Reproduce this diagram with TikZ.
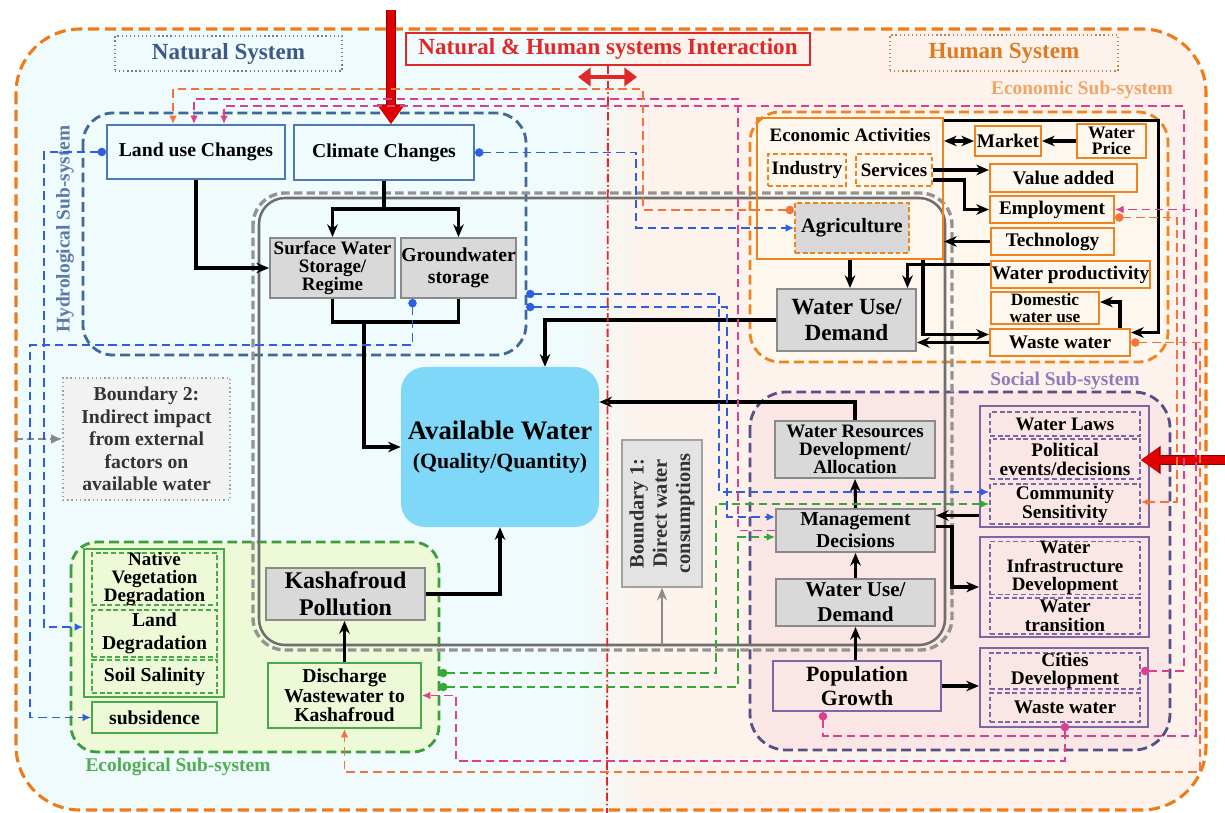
\documentclass[tikz,border=0pt]{standalone}
\usepackage{fontspec}
\setmainfont{Liberation Serif}
\usetikzlibrary{arrows.meta}

\definecolor{natbg}{HTML}{EFFBFD}
\definecolor{humbg}{HTML}{FDF3EC}
\definecolor{outer}{HTML}{F07A18}
\definecolor{hydline}{HTML}{3F6A96}
\definecolor{hydbox}{HTML}{4C7AB0}
\definecolor{hydtxt}{HTML}{5A7AA8}
\definecolor{nattxt}{HTML}{3D5A86}
\definecolor{natdot}{HTML}{6A7F9A}
\definecolor{humtxt}{HTML}{E07A20}
\definecolor{humdot}{HTML}{B8864E}
\definecolor{intred}{HTML}{E12828}
\definecolor{ecoline}{HTML}{3E9E3E}
\definecolor{ecofill}{HTML}{EEF9D8}
\definecolor{ecobox}{HTML}{49AA49}
\definecolor{ecotxt}{HTML}{4FAE4F}
\definecolor{econ}{HTML}{EE8420}
\definecolor{econfill}{HTML}{FEF7EE}
\definecolor{econtxt}{HTML}{F2A565}
\definecolor{socline}{HTML}{5A4E88}
\definecolor{socfill}{HTML}{FAE7E5}
\definecolor{socbox}{HTML}{7D66A6}
\definecolor{soctxt}{HTML}{8C7BBD}
\definecolor{boxgray}{HTML}{8A8A8A}
\definecolor{fillgray}{HTML}{D9D9D9}
\definecolor{awblue}{HTML}{7FD8F7}
\definecolor{coresolid}{HTML}{6E6E6E}
\definecolor{coredash}{HTML}{939393}
\definecolor{lnkblue}{HTML}{2E5FE3}
\definecolor{lnkgreen}{HTML}{35A835}
\definecolor{lnkpink}{HTML}{DD3F8E}
\definecolor{lnkorange}{HTML}{F2743A}
\definecolor{redarr}{HTML}{E00000}
\definecolor{reddark}{HTML}{8B0000}

\newlength\pu
\setlength\pu{0.025cm}
\newcommand\fsz[2]{\fontsize{#1}{#2}\selectfont\bfseries}

\begin{document}
\begin{tikzpicture}[x=0.025cm, y=-0.025cm,
  sz/.style 2 args = {minimum width=#1\pu, minimum height=#2\pu},
  txt/.style      = {font=\fsz{14}{14}, align=center, inner sep=0pt},
  ttl/.style      = {txt, font=\fsz{16.4}{18}, line width=0.9pt},
  sublbl/.style   = {txt, font=\fsz{13.8}{15}},
  region/.style   = {line width=2pt, dash pattern=on 7pt off 3.5pt},
  hbox/.style     = {txt, draw=hydbox, line width=1.4pt},
  gbox/.style     = {txt, draw=boxgray, fill=fillgray, line width=1.4pt},
  cbox/.style     = {txt, draw=ecobox, line width=1.4pt},   % ecological
  cdash/.style    = {cbox, line width=1.2pt, dash pattern=on 3.5pt off 2pt},
  ebox/.style     = {txt, draw=econ, line width=1.5pt},     % economic
  edash/.style    = {ebox, line width=1.3pt, dash pattern=on 3.5pt off 2pt},
  sbox/.style     = {txt, draw=socbox, line width=1.5pt},   % social
  sdash/.style    = {sbox, line width=1.3pt, dash pattern=on 3.5pt off 2pt},
  flow/.style     = {line width=2.2pt, -{Stealth[length=9pt,width=7.5pt]}},
  link/.style     = {line width=1.1pt, dash pattern=on 6pt off 3.5pt,
                     {Circle[length=6pt]}-{Latex[length=6pt,width=5.5pt]}},
  nodot/.style    = {-{Latex[length=6pt,width=5.5pt]}},
  redarrow/.style = {line width=6pt, redarr, -{Triangle[length=13pt,width=17pt]},
                     preaction={draw=reddark, line width=7.6pt,
                                -{Triangle[length=14pt,width=19pt]}}},
]
\useasboundingbox (0,0) rectangle (1225,813);

% the two systems
\begin{scope}
  \clip[rounded corners=1.6cm] (16,29) rectangle (1206,810);
  \fill[natbg] (0,0) rectangle (580,813);
  \shade[left color=natbg, right color=humbg] (580,0) rectangle (640,813);
  \fill[humbg] (640,0) rectangle (1225,813);
\end{scope}
\draw[outer, line width=2.2pt, dash pattern=on 8pt off 4pt, rounded corners=1.6cm]
  (16,29) rectangle (1206,810);

\node[ttl, draw=natdot, dotted, text=nattxt, sz={227}{35}] (natsys) at (228.5,53.5) {Natural System};
\node[ttl, draw=intred, text=intred, sz={404}{32}] (intsys) at (608,49) {Natural \& Human systems Interaction};
\node[ttl, draw=humdot, dotted, text=humtxt, sz={228}{36}] (humsys) at (1004,53) {Human System};

% sub-systems
\draw[region, draw=hydline, rounded corners=0.75cm] (83,113) rectangle (526,355);
\draw[region, draw=ecoline, fill=ecofill, rounded corners=0.65cm] (71,542) rectangle (439,752);
\draw[region, draw=econ, fill=econfill, rounded corners=0.75cm] (750,112) rectangle (1168,362);
\draw[region, draw=socline, fill=socfill, rounded corners=0.9cm] (750,392) rectangle (1170,750);

\node[sublbl, text=hydtxt, rotate=90] (hydlbl) at (65,229) {Hydrological Sub-system};
\node[sublbl, text=ecotxt] (ecolbl) at (178,767) {Ecological Sub-system};
\node[sublbl, text=econtxt] (econlbl) at (1082,90) {Economic Sub-system};
\node[sublbl, text=soctxt] (soclbl) at (1065,381) {Social Sub-system};

% the core: boundary 1
\draw[coresolid, line width=1.8pt, rounded corners=0.65cm] (259,198) rectangle (945,645);
\draw[coredash, line width=2.4pt, dash pattern=on 6pt off 3pt, rounded corners=0.8cm]
  (253,193) rectangle (952,650);

% hydrological
\node[hbox, sz={178}{54}] (landuse) at (196,152) {Land use Changes};
\node[hbox, sz={180}{55}] (climate) at (384,152.5) {Climate Changes};
\node[gbox, font=\fsz{13.5}{13}, sz={125}{60}] (surface) at (332.5,268) {Surface Water\\Storage/\\Regime};
\node[gbox, font=\fsz{14}{15.5}, sz={115}{60}] (ground) at (458.5,268) {Groundwater\\storage};

\node[txt, fill=awblue, rounded corners=0.6cm, font=\fsz{19}{20.5}, sz={198}{160}] (aw) at (500,447)
  {Available Water\\{\fontsize{15.5}{20.5}\selectfont (Quality/Quantity)}};

\node[txt, draw=boxgray!80, dotted, line width=1pt, fill=black!5, text=black!80,
      font=\fsz{14}{16}, sz={167}{122}] (bound2) at (146.5,439)
  {Boundary 2:\\Indirect impact\\from external\\factors on\\available water};
\node[txt, draw=boxgray!80, line width=1pt, fill=black!11, text=black!80,
      font=\fsz{14.5}{16.5}, rotate=90, sz={147}{80}] (bound1) at (662,513.5)
  {Boundary 1:\\Direct water\\consumptions};

% ecological
\node[cbox, sz={140}{148}] (grp1) at (154,623) {};
\node[cdash, font=\fsz{13.5}{12.5}, sz={125}{52}] (native) at (154.5,579) {Native\\Vegetation\\Degradation};
\node[cdash, font=\fsz{14}{16}, sz={125}{47}] (landdeg) at (154.5,633.5) {Land\\Degradation};
\node[cdash, sz={125}{33}] (salinity) at (154.5,676.5) {Soil Salinity};
\node[cbox, sz={125}{31}] (subsid) at (154.5,717.5) {subsidence};
\node[gbox, font=\fsz{17}{19}, sz={159}{52}] (kashaf) at (345.5,594) {Kashafroud\\Pollution};
\node[cbox, font=\fsz{14}{14}, sz={153}{65}] (discharge) at (344.5,695.5) {Discharge\\Wastewater to\\Kashafroud};

% economic
\node[ebox, sz={186}{141}] (ecact) at (850,188.5) {};
\node[txt, font=\fsz{13.5}{15}] (ecacttxt) at (850,135) {Economic Activities};
\node[edash, font=\fsz{13.5}{15}, sz={78}{32}] (industry) at (807,170) {Industry};
\node[edash, font=\fsz{13.5}{15}, sz={76}{32}] (services) at (894,170) {Services};
\node[edash, fill=fillgray, font=\fsz{14.5}{16}, sz={114}{50}] (agri) at (852,228) {Agriculture};
\node[ebox, font=\fsz{13.7}{15}, sz={66}{30}] (market) at (1008,141) {Market};
\node[ebox, font=\fsz{12.5}{11.5}, sz={69}{34}] (wprice) at (1111.5,141) {Water\\Price};
\node[ebox, font=\fsz{13.7}{15}, sz={147}{28}] (valadd) at (1063.5,178) {Value added};
\node[ebox, font=\fsz{13.7}{15}, sz={124}{27}] (employ) at (1052,209.5) {Employment};
\node[ebox, font=\fsz{13.7}{15}, sz={123}{27}] (techno) at (1052.5,241.5) {Technology};
\node[ebox, font=\fsz{13.7}{15}, sz={159}{27}] (wprod) at (1070.5,274.5) {Water productivity};
\node[ebox, font=\fsz{12.3}{12.3}, sz={108}{32}] (domestic) at (1045,308) {Domestic\\water use};
\node[ebox, font=\fsz{13.7}{15}, sz={140}{27}] (wastee) at (1060,342.5) {Waste water};
\node[gbox, font=\fsz{16.5}{19}, sz={139}{62}] (wude) at (846.5,320) {Water Use/\\Demand};

% social
\node[gbox, font=\fsz{13.5}{13}, sz={160}{57}] (wrda) at (855,449.5) {Water Resources\\Development/\\Allocation};
\node[gbox, font=\fsz{14}{15.7}, sz={159}{43}] (mandec) at (855.5,530.5) {Management\\Decisions};
\node[gbox, font=\fsz{15}{17.8}, sz={159}{47}] (wuds) at (855.5,602.5) {Water Use/\\Demand};
\node[sbox, font=\fsz{15.5}{16.5}, sz={168}{50}] (popg) at (857,686) {Population\\Growth};
\node[sbox, sz={169}{121}] (grpA) at (1064.5,466.5) {};
\node[sdash, font=\fsz{13.5}{15}, sz={150}{24}] (wlaws) at (1065,424) {Water Laws};
\node[sdash, font=\fsz{13.7}{13.5}, sz={150}{40}] (polit) at (1065,459) {Political\\events/decisions};
\node[sdash, font=\fsz{13.7}{13.5}, sz={150}{40}] (commsens) at (1065,504) {Community\\Sensitivity};
\node[sbox, sz={169}{100}] (grpB) at (1064.5,587) {};
\node[sdash, font=\fsz{13.5}{13}, sz={150}{52}] (winfra) at (1065,568) {Water\\Infrastructure\\Development};
\node[sdash, font=\fsz{13.7}{13.3}, sz={150}{36}] (wtrans) at (1065,616) {Water\\transition};
\node[sbox, sz={168}{79}] (grpC) at (1064,687.5) {};
\node[sdash, font=\fsz{13.7}{13.3}, sz={150}{36}] (cities) at (1065,671) {Cities\\Development};
\node[sdash, font=\fsz{13.7}{15}, sz={150}{29}] (wastes) at (1065,707.5) {Waste water};

% black flows
\coordinate (clsplit) at (384,209);
\draw[flow, -] (climate.south) -- (clsplit);
\draw[flow] (clsplit) -| (surface.north);
\draw[flow] (clsplit) -| (ground.north);
\draw[flow] (landuse.south) |- (surface.west);
\coordinate (storjoin) at (364,322);
\draw[flow, -] (surface.south) |- (storjoin) -| (ground.south);
\draw[flow] (storjoin) |- (aw.west);
\draw[flow] (wude.west) -| ([xshift=45\pu]aw.north);
\draw[flow] (wrda.north) |- ([yshift=45\pu]aw.east);
\draw[flow] (kashaf.east) -| (aw.south);
\draw[flow] (discharge.north) -- (discharge.north |- kashaf.south);

\draw[flow, {Stealth[length=9pt,width=7.5pt]}-{Stealth[length=9pt,width=7.5pt]}]
  (ecact.east |- market.west) -- (market.west);
\draw[flow] (wprice.west) -- (market.east);
\draw[flow] (services.east) -- (valadd.west |- services.east);
\draw[flow] ([yshift=-10\pu]services.east) -- ++(32,0) |- (employ.west);
\draw[flow] (techno.west) -- (ecact.east |- techno.west);
\draw[flow] (ecact.south) -- (ecact.south |- wude.north);
\draw[flow] ([yshift=10\pu]wprod.west) -| ([xshift=61\pu]wude.north);
\draw[flow] ([xshift=73\pu]ecact.south) |- ([yshift=8\pu]wastee.west);
\draw[flow] (wastee.west) -- (wude.east |- wastee.west);
\draw[flow] ([yshift=-4\pu]ecact.north east) -- ++(214,0) |- ([yshift=10\pu]wastee.east);
\draw[flow] ([xshift=60\pu]wastee.north) |- ([yshift=6\pu]domestic.east);

\draw[flow] (wuds.north) -- (mandec.south);
\draw[flow] (mandec.north) -- (wrda.south);
\draw[flow] (wuds.south |- popg.north) -- (wuds.south);
\coordinate (msin) at ([yshift=15\pu]mandec.east);
\draw[flow] (msin -| grpA.west) -- (msin);
\draw[flow] ([yshift=4\pu]mandec.east) -- ++(16,0) |- (grpB.west);
\draw[flow] (popg.east) -- (grpC.west |- popg.east);

\coordinate (corebot) at (662,645);
\draw[boxgray, line width=1.4pt, -{Stealth[length=9pt,width=7pt]}] (corebot) -- (bound1.west);
\coordinate (b2src) at (16,439);
\draw[boxgray, line width=1.2pt, dash pattern=on 5pt off 3pt, -{Latex[length=8pt,width=7pt]}]
  (b2src) -- (bound2.west);

% external drivers and the interaction line
\coordinate (divbot) at (607,813);
\draw[intred, line width=1.3pt, dash pattern=on 6pt off 2pt on 1pt off 2pt] (intsys.south) -- (divbot);
\coordinate (intl) at (578,77);
\coordinate (intr) at (637,77);
\draw[intred, line width=2.2pt, {Triangle[length=9pt,width=13pt]}-{Triangle[length=9pt,width=13pt]}]
  (intl) -- (intr);
\coordinate (extclim) at (391,10);
\draw[redarrow] (extclim) -- (extclim |- climate.north);
\coordinate (extpol) at (1232,460);
\draw[redarrow] (extpol) -- (extpol -| polit.east);

% dashed links: blue
\draw[link, lnkblue] (landuse.west) -- ++(-62,0) |- ([yshift=-4\pu]grp1.west);
\draw[link, lnkblue] ([xshift=-46\pu]ground.south) |- (30,345) |- (subsid.west);
\draw[link, lnkblue] (climate.east) -- ++(161,0) |- (agri.west);
\coordinate (hyd1) at (526,294);
\coordinate (hyd2) at (526,307);
\draw[link, lnkblue] (hyd1) -- ++(193,0) |- ([yshift=12\pu]commsens.west);
\draw[link, lnkblue] (hyd2) -- ++(201,0) |- ([yshift=13.5\pu]mandec.west);

% green
\coordinate (eco1) at (439,673);
\coordinate (eco2) at (439,687);
\draw[link, lnkgreen] (eco1) -- ++(277,0) |- (commsens.west);
\draw[link, lnkgreen] (eco2) -- ++(299,0) |- ([yshift=-6.5\pu]mandec.west);

% pink
\draw[link, nodot, lnkpink] (mandec.west) -| (738,99) -| ([xshift=-2\pu]landuse.north);
\draw[link, lnkpink] (cities.east) -| (1184,106) -| ([xshift=28\pu]landuse.north);
\draw[link, lnkpink] ([xshift=-34\pu]popg.south) |- (1196,736) |- (employ.east);
\draw[link, lnkpink] (wastes.south) |- (456,761) |- (discharge.east);

% orange
\draw[link, lnkorange] ([yshift=18\pu]agri.west) -| (643,89) -| ([xshift=-23\pu]landuse.north);
\draw[link, lnkorange] ([yshift=-8\pu]employ.east) -- ++(62,0) |- ([yshift=2\pu]commsens.east);
\draw[link, lnkorange] (wastee.east) -| (1200,772) -| (discharge.south);
\end{tikzpicture}
\end{document}
